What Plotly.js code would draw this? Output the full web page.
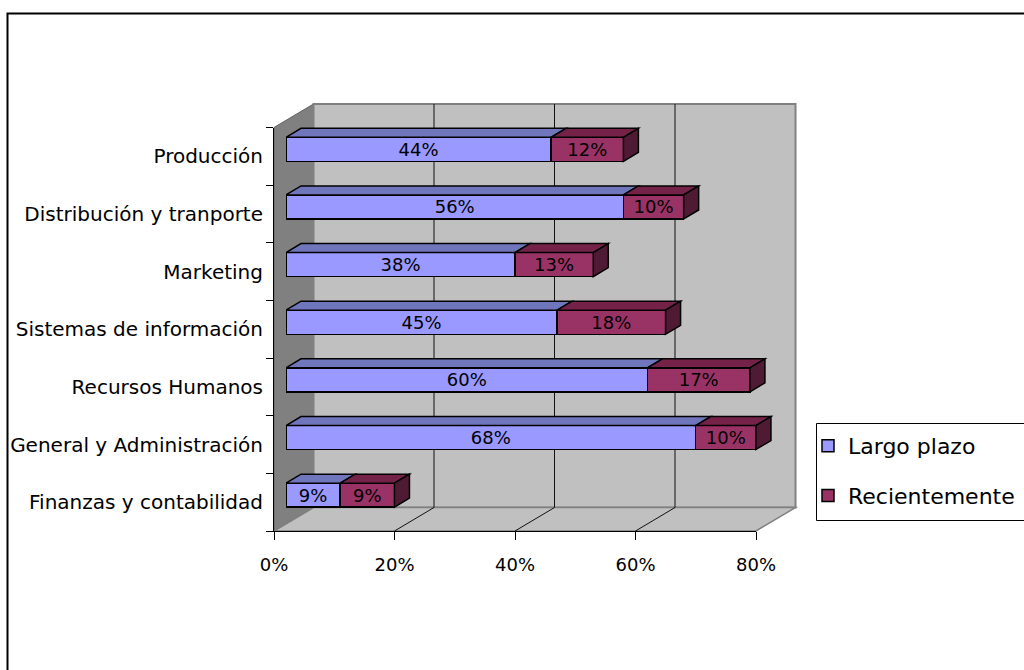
<!DOCTYPE html>
<html><head><meta charset="utf-8">
<script src="https://cdn.plot.ly/plotly-3.0.1.min.js"></script>
<style>html,body{margin:0;padding:0;background:#fff}#chart{width:1024px;height:670px}</style>
</head><body><div id="chart"></div>
<script>
// ---- data (bottom to top) ----
const categories = ['Finanzas y contabilidad','General y Administración','Recursos Humanos','Sistemas de información','Marketing','Distribución y tranporte','Producción'];
const largoPlazo = [9, 68, 60, 45, 38, 56, 44];
const recientemente = [9, 10, 17, 18, 13, 10, 12];
const seriesNames = ['Largo plazo', 'Recientemente'];
const xTickValues = [0, 20, 40, 60, 80];

// ---- geometry / style ----
const W = 1024, H = 670;
const FX0 = 274, FX1 = 756, FY0 = 531, FY1 = 127.5;
const XMAX = 80, X2MAX = 86;
const DX = 39.5, DY = 23.5;   // wall depth
const BDX = 12, BDY = 7;      // bar front offset
const bdx = 15, bdy = 9;      // bar depth
const BARW = 0.417;
const FONT = 'DejaVu Sans';
const nCat = categories.length;
const pxPerX = (FX1 - FX0) / XMAX;
const pxPerY = (FY0 - FY1) / nCat;
const px = x => x / W, py = y => (H - y) / H;
const C_BLUE = '#9999FF', C_RED = '#993366';
const C_BLUE_TOP = '#7076BC', C_RED_TOP = '#742248', C_RED_SIDE = '#4E1A34';

const pct = v => v + '%';

const traces = [
  { type: 'scatter', mode: 'none', x: categories.map(() => 0), y: categories,
    xaxis: 'x', yaxis: 'y', showlegend: false, hoverinfo: 'skip' },
  { type: 'bar', orientation: 'h', name: seriesNames[0], y: categories, x: largoPlazo,
    text: largoPlazo.map(pct), textposition: 'inside', insidetextanchor: 'middle',
    textangle: 0, constraintext: 'none',
    textfont: { family: FONT, size: 18, color: '#000' },
    marker: { color: C_BLUE, line: { color: '#000', width: 1.5 } },
    width: BARW, xaxis: 'x2', yaxis: 'y2', legendgroup: 'a' },
  { type: 'bar', orientation: 'h', name: seriesNames[1], y: categories, x: recientemente,
    text: recientemente.map(pct), textposition: 'inside', insidetextanchor: 'middle',
    textangle: 0, constraintext: 'none',
    textfont: { family: FONT, size: 18, color: '#000' },
    marker: { color: C_RED, line: { color: '#000', width: 1.5 } },
    width: BARW, xaxis: 'x2', yaxis: 'y2', legendgroup: 'b' }
];

const shapes = [];
// outer chart border
shapes.push({ type: 'rect', xref: 'paper', yref: 'paper', x0: px(7.5), x1: 1.05, y0: -0.05, y1: py(13.5),
  line: { color: '#000', width: 2 }, fillcolor: 'rgba(0,0,0,0)', layer: 'below' });
// left wall
shapes.push({ type: 'path', xref: 'paper', yref: 'paper', layer: 'below',
  path: `M${px(FX0)},${py(FY1)}L${px(FX0+DX)},${py(FY1-DY)}L${px(FX0+DX)},${py(FY0-DY)}L${px(FX0)},${py(FY0)}Z`,
  fillcolor: '#808080', line: { color: '#606060', width: 1 } });
// back wall
shapes.push({ type: 'rect', xref: 'paper', yref: 'paper', layer: 'below',
  x0: px(FX0+DX), x1: px(FX1+DX), y0: py(FY0-DY), y1: py(FY1-DY),
  fillcolor: '#C0C0C0', line: { color: '#808080', width: 2 } });
// floor
shapes.push({ type: 'path', xref: 'paper', yref: 'paper', layer: 'below',
  path: `M${px(FX0)},${py(FY0)}L${px(FX1)},${py(FY0)}L${px(FX1+DX)},${py(FY0-DY)}L${px(FX0+DX)},${py(FY0-DY)}Z`,
  fillcolor: '#C0C0C0', line: { color: '#808080', width: 1.5 } });
// gridlines on back wall and floor
xTickValues.slice(1, -1).forEach(v => {
  const xf = FX0 + v * pxPerX;
  shapes.push({ type: 'line', xref: 'paper', yref: 'paper', layer: 'below',
    x0: px(xf + DX), x1: px(xf + DX), y0: py(FY0 - DY), y1: py(FY1 - DY),
    line: { color: '#111', width: 1 } });
  shapes.push({ type: 'line', xref: 'paper', yref: 'paper', layer: 'below',
    x0: px(xf), x1: px(xf + DX), y0: py(FY0), y1: py(FY0 - DY),
    line: { color: '#111', width: 1 } });
});
// 3D faces of bars
const ddx = bdx / pxPerX, ddy = bdy / pxPerY;
categories.forEach((c, i) => {
  const yt = i + BARW / 2, yb = i - BARW / 2;
  const s1 = 0, e1 = largoPlazo[i], e2 = largoPlazo[i] + recientemente[i];
  [[s1, e1, C_BLUE_TOP], [e1, e2, C_RED_TOP]].forEach(([s, e, col]) => {
    shapes.push({ type: 'path', xref: 'x2', yref: 'y2', layer: 'above',
      path: `M${s},${yt}L${e},${yt}L${e+ddx},${yt+ddy}L${s+ddx},${yt+ddy}Z`,
      fillcolor: col, line: { color: '#000', width: 1.5 } });
  });
  shapes.push({ type: 'path', xref: 'x2', yref: 'y2', layer: 'above',
    path: `M${e2},${yt}L${e2+ddx},${yt+ddy}L${e2+ddx},${yb+ddy}L${e2},${yb}Z`,
    fillcolor: C_RED_SIDE, line: { color: '#000', width: 1.5 } });
});
// legend box
shapes.push({ type: 'rect', xref: 'paper', yref: 'paper', layer: 'below',
  x0: px(816.5), x1: 1.05, y0: py(520.5), y1: py(423.5),
  fillcolor: '#fff', line: { color: '#000', width: 1 } });

const layout = {
  width: W, height: H,
  margin: { l: 0, r: 0, t: 0, b: 0, autoexpand: false },
  paper_bgcolor: '#fff', plot_bgcolor: 'rgba(0,0,0,0)',
  font: { family: FONT, color: '#000' },
  barmode: 'stack', hovermode: false,
  xaxis: { domain: [px(FX0), px(FX1)], range: [0, XMAX], anchor: 'y',
    tickvals: xTickValues, ticktext: xTickValues.map(pct),
    showline: true, linecolor: '#000', linewidth: 1,
    ticks: 'outside', ticklen: 8, tickcolor: '#000', tickwidth: 1,
    showgrid: false, zeroline: false, ticklabelstandoff: 9,
    tickfont: { family: FONT, size: 18, color: '#000' } },
  yaxis: { domain: [py(FY0), py(FY1)], range: [-0.5, nCat - 0.5], anchor: 'x', type: 'category',
    categoryorder: 'array', categoryarray: categories,
    showline: true, linecolor: '#000', linewidth: 1,
    ticks: 'outside', ticklen: 7, tickcolor: '#000', tickson: 'boundaries',
    showgrid: false, zeroline: false, ticklabelstandoff: 6,
    tickfont: { family: FONT, size: 20, color: '#000' } },
  xaxis2: { domain: [px(FX0 + BDX), px(FX0 + BDX + X2MAX * pxPerX)], range: [0, X2MAX],
    anchor: 'y2', visible: false },
  yaxis2: { domain: [py(FY0 - BDY), py(FY1 - BDY)], range: [-0.5, nCat - 0.5], anchor: 'x2',
    type: 'category', categoryorder: 'array', categoryarray: categories, visible: false },
  showlegend: true,
  legend: { x: px(808), xanchor: 'left', y: py(425), yanchor: 'top',
    bgcolor: 'rgba(0,0,0,0)', borderwidth: 0, traceorder: 'grouped', tracegroupgap: 18,
    itemwidth: 30, font: { family: FONT, size: 22, color: '#000' } },
  shapes: shapes
};

Plotly.newPlot('chart', traces, layout, { staticPlot: true, displayModeBar: false });
</script>
</body></html>
